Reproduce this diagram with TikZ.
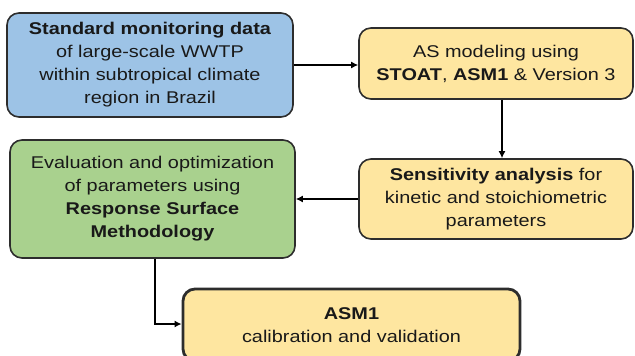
\documentclass[tikz,border=0pt]{standalone}
\usepackage{fontspec}
\setmainfont[FakeStretch=1.17]{Liberation Sans}
\usetikzlibrary{arrows.meta}
\definecolor{bluefill}{RGB}{157,195,230}
\definecolor{yellowfill}{RGB}{254,230,160}
\definecolor{greenfill}{RGB}{169,209,142}
\definecolor{edgecol}{RGB}{45,45,45}
\definecolor{txt}{RGB}{25,25,25}
\begin{document}
\begin{tikzpicture}[x=1pt,y=-1pt,
  box/.style={draw=edgecol, line width=1.6pt, rounded corners=12pt, align=center,
    inner sep=0pt, text=txt, font=\fontsize{17}{23}\selectfont},
  conn/.style={line width=2.5pt, -{Latex[length=7pt,width=7pt]}}]
\useasboundingbox (0,0) rectangle (635,356);
\node[box, fill=bluefill, minimum width=286pt, minimum height=104pt] (b1) at (150,65)
  {\textbf{Standard monitoring data}\\of large-scale WWTP\\within subtropical climate\\region in Brazil};
\node[box, fill=yellowfill, minimum width=274pt, minimum height=71pt] (b2) at (496,63.5)
  {AS modeling using\\\textbf{STOAT}, \textbf{ASM1} \& Version 3};
\node[box, fill=yellowfill, minimum width=274pt, minimum height=80pt] (b3) at (496,199)
  {\textbf{Sensitivity analysis} for\\kinetic and stoichiometric\\parameters};
\node[box, fill=greenfill, minimum width=285pt, minimum height=118pt] (g) at (152.5,199)
  {Evaluation and optimization\\of parameters using\\\textbf{Response Surface}\\\textbf{Methodology}};
\node[box, fill=yellowfill, line width=2.8pt, minimum width=337pt, minimum height=72pt] (b5) at (351.5,325)
  {\textbf{ASM1}\\calibration and validation};
\draw[conn] (b1.east) -- (b1.east -| b2.west);
\draw[conn] ([xshift=6pt]b2.south) -- ([xshift=6pt]b3.north);
\draw[conn] (b3.west) -- (g.east);
\draw[conn] ([xshift=2.5pt]g.south) |- ([yshift=1pt]b5.west);
\end{tikzpicture}
\end{document}
